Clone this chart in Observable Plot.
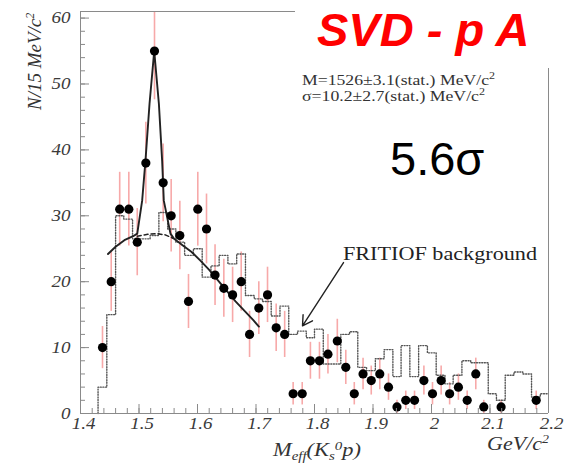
<!DOCTYPE html>
<html><head><meta charset="utf-8">
<script src="https://cdn.jsdelivr.net/npm/d3@7"></script>
<script src="https://cdn.jsdelivr.net/npm/@observablehq/plot@0.6"></script>
<style>
html,body{margin:0;padding:0;background:#fff;}
#chart{position:relative;width:567px;height:466px;overflow:hidden;}
</style></head><body><div id="chart"></div>
<script>
// Data points (bin centres in GeV/c^2), counts and statistical errors
const mass = [1.4376,1.4525,1.467,1.4826,1.497,1.5117,1.5265,1.5413,1.555,1.5698,1.5846,1.6005,1.6154,1.630,1.645,1.660,1.6747,1.689,1.7048,1.7197,1.7345,1.749,1.7635,1.779,1.793,1.8085,1.823,1.839,1.8535,1.868,1.883,1.897,1.9116,1.9265,1.941,1.956,1.971,1.987,2.0017,2.0165,2.031,2.046,2.061,2.0757,2.0894,2.119,2.179];
const counts = [10,20,31,31,26,38,55,35,30,27,17,31,28,21,19,18,20,12,16,18,13,12,3,3,8,8,9,11,7,3,6,5,6,4,1,2,2,5,3,5,3,4,2,6,1,1,2];
const errors = [3.2,4.5,5.6,5.6,5.1,6.2,7.4,5.9,5.5,5.2,4.1,5.6,5.3,4.6,4.4,4.2,4.5,3.5,4,4.2,3.6,3.5,1.7,1.7,2.8,2.8,3,3.3,2.6,1.7,2.4,2.2,2.4,2,1,1.4,1.4,2.2,1.7,2.2,1.7,2,1.4,2.4,1,1,1.4];

// FRITIOF background histogram: bin edges and contents
const binEdges = [1.430,1.445,1.460,1.474,1.489,1.504,1.519,1.534,1.549,1.563,1.578,1.593,1.608,1.623,1.637,1.652,1.667,1.682,1.697,1.711,1.726,1.741,1.756,1.771,1.786,1.800,1.815,1.830,1.845,1.860,1.874,1.889,1.904,1.919,1.934,1.948,1.963,1.978,1.993,2.008,2.023,2.037,2.052,2.067,2.082,2.097,2.111,2.126,2.141,2.156,2.171,2.186,2.200];
const fritiof = [4,15,30,29.5,26.5,26.5,27,30.5,28,26,24,25,20.7,22.4,24,22.7,24.2,17.9,17.4,17,14.8,16.3,12,12.5,11.5,12.8,7.5,7.5,12,12.4,7,6.5,8.3,9.7,5.6,10.3,5.6,10.3,9.2,5.8,4.5,5.8,8,7.7,7.7,3,2,5.8,6.3,6,2.5,3];

// Fit: signal + background (solid), background under the peak (dashed)
const fitMass  = [1.447,1.46,1.475,1.49,1.497,1.5054,1.5111,1.518,1.526,1.534,1.5396,1.5424,1.5538,1.56,1.575,1.59,1.605,1.62,1.635,1.65,1.665,1.68,1.695,1.705];
const fitValue = [24.2,25.3,26.3,26.9,27.3,32.3,38.4,47,55,47,38.3,32.3,27.3,26.5,25.5,24.5,23.2,21.8,20.2,18.6,17,15.6,14.2,13.2];
const bgMass  = [1.497,1.515,1.53,1.545,1.558];
const bgValue = [26.9,27.2,27.3,27.1,26.6];

// Axis ticks
const xTicks = [1.4,1.5,1.6,1.7,1.8,1.9,2.0,2.1,2.2];
const xTickLabels = ["1.4","1.5","1.6","1.7","1.8","1.9","2","2.1","2.2"];
const yTicks = [0,10,20,30,40,50,60];

const points = mass.map((m,i)=>({m, n:counts[i], e:errors[i]}));
const hist = [{x:binEdges[0], y:0}]
  .concat(fritiof.map((v,i)=>({x:binEdges[i], y:v})))
  .concat([{x:binEdges[binEdges.length-1], y:fritiof[fritiof.length-1]}]);
const fit = fitMass.map((m,i)=>({m, v:fitValue[i]}));
const bg = bgMass.map((m,i)=>({m, v:bgValue[i]}));

const W = 567, H = 466, mL = 80, mR = 19, mT = 11, mB = 53;
const pw = W - mL - mR, ph = H - mT - mB;
const xMinor = d3.range(0, 41).map(i => 1.4 + i * 0.02);
const yMinor = d3.range(0, 62, 2);
const frameCol = "#8a8a8a";

const plot = Plot.plot({
  width: W, height: H,
  marginLeft: mL, marginRight: mR, marginTop: mT, marginBottom: mB,
  x: {domain: [1.4, 2.2]},
  y: {domain: [0, 61]},
  style: {fontFamily: "'Liberation Serif','Times New Roman',serif", fontStyle: "italic", color: "#3a3a3a", background: "#fff"},
  marks: [
    Plot.ruleX(points, {x: "m", y1: d => d.n - d.e, y2: d => d.n + d.e, stroke: "#f7a9a9", strokeWidth: 1.6, clip: true}),
    Plot.line(hist, {x: "x", y: "y", curve: "step-after", stroke: "#555", strokeWidth: 1.4, strokeDasharray: "1,1.6"}),
    Plot.line(bg, {x: "m", y: "v", stroke: "#222", strokeWidth: 1.5, strokeDasharray: "4,3"}),
    Plot.line(fit, {x: "m", y: "v", stroke: "#222", strokeWidth: 1.9}),
    Plot.dot(points, {x: "m", y: "n", r: 4.6, fill: "#000", stroke: "none"}),
    // frame
    Plot.ruleX([1.4], {stroke: frameCol}),
    Plot.ruleY([0], {stroke: frameCol}),
    Plot.ruleY([61], {x1: 1.4, x2: 1.7675, stroke: frameCol}),
    Plot.ruleX([2.2], {y1: 0, y2: 52.35, stroke: frameCol}),
    // inward tick marks
    Plot.tickY(yTicks, {y: d => d, insetRight: pw - 9, stroke: frameCol}),
    Plot.tickY(yMinor, {y: d => d, insetRight: pw - 5, stroke: frameCol}),
    Plot.tickX(xTicks, {x: d => d, insetTop: ph - 9, stroke: frameCol}),
    Plot.tickX(xMinor, {x: d => d, insetTop: ph - 5, stroke: frameCol}),
    Plot.axisY(yTicks, {anchor: "left", tickSize: 0, tickPadding: 10, label: null, fontSize: 16.5}),
    Plot.axisX(xTicks, {anchor: "bottom", tickSize: 0, tickPadding: 4, dx: 3, label: null, fontSize: 16.5,
      tickFormat: d => xTickLabels[xTicks.findIndex(t => Math.abs(t - d) < 1e-9)]}),
    Plot.arrow([{x1: 1.8496, y1: 22.9, x2: 1.7795, y2: 13.3}], {x1: "x1", y1: "y1", x2: "x2", y2: "y2", stroke: "#222", strokeWidth: 1.4, headLength: 12})
  ]
});
document.getElementById("chart").appendChild(plot);

const svg = d3.select(plot);
// horizontally stretched look of the original figure text
svg.selectAll('g[aria-label="y-axis tick label"] text, g[aria-label="x-axis tick label"] text').each(function(){
  const w = this.getComputedTextLength();
  this.setAttribute("textLength", (w * 1.15).toFixed(1));
  this.setAttribute("lengthAdjust", "spacingAndGlyphs");
});

const serif = "'Liberation Serif','Times New Roman',serif";
const sans = "'Liberation Sans',Arial,sans-serif";
const ann = svg.append("g").attr("text-anchor", "start");

ann.append("text").attr("x", 317).attr("y", 46)
  .attr("font-family", sans).attr("font-weight", "bold").attr("font-style", "italic")
  .attr("font-size", 47).attr("fill", "#ff0000").text("SVD - p A");

function supText(x, y, main, sup, size, len, color) {
  const t = ann.append("text").attr("x", x).attr("y", y)
    .attr("font-family", serif).attr("font-style", "normal").attr("font-size", size).attr("fill", color);
  t.append("tspan").text(main);
  t.append("tspan").attr("dy", -size * 0.4).attr("font-size", size * 0.68).text(sup);
  if (len) t.attr("textLength", len).attr("lengthAdjust", "spacingAndGlyphs");
  return t;
}
supText(302, 85, "M=1526±3.1(stat.) MeV/c", "2", 15, 193, "#333");
supText(302, 101, "σ=10.2±2.7(stat.) MeV/c", "2", 15, 183, "#333");

ann.append("text").attr("x", 390).attr("y", 175)
  .attr("font-family", sans).attr("font-style", "normal").attr("font-size", 47).attr("fill", "#000").text("5.6σ");

ann.append("text").attr("x", 343).attr("y", 260)
  .attr("font-family", serif).attr("font-style", "normal").attr("font-size", 19.5).attr("fill", "#222")
  .attr("textLength", 194).attr("lengthAdjust", "spacingAndGlyphs").text("FRITIOF background");

// x-axis title M_eff(K_s^0 p)
const xt = ann.append("text").attr("x", 273).attr("y", 456)
  .attr("font-family", serif).attr("font-style", "italic").attr("font-size", 18).attr("fill", "#333")
  .attr("textLength", 88).attr("lengthAdjust", "spacingAndGlyphs");
xt.append("tspan").text("M");
xt.append("tspan").attr("dy", 4).attr("font-size", 12).text("eff");
xt.append("tspan").attr("dy", -4).text("(K");
xt.append("tspan").attr("dy", 4).attr("font-size", 12).text("s");
xt.append("tspan").attr("dy", -10).attr("font-size", 12).text("0");
xt.append("tspan").attr("dy", 6).text("p)");

// unit label
const gt = ann.append("text").attr("x", 487).attr("y", 450)
  .attr("font-family", serif).attr("font-style", "italic").attr("font-size", 19).attr("fill", "#333")
  .attr("textLength", 62).attr("lengthAdjust", "spacingAndGlyphs");
gt.append("tspan").text("GeV/c");
gt.append("tspan").attr("dy", -7).attr("font-size", 12).text("2");

// y-axis title
const yt = ann.append("text").attr("transform", "translate(41,110) rotate(-90)")
  .attr("font-family", serif).attr("font-style", "italic").attr("font-size", 19).attr("fill", "#333");
yt.append("tspan").text("N/15 MeV/c");
yt.append("tspan").attr("dy", -7).attr("font-size", 12).text("2");
</script></body></html>
